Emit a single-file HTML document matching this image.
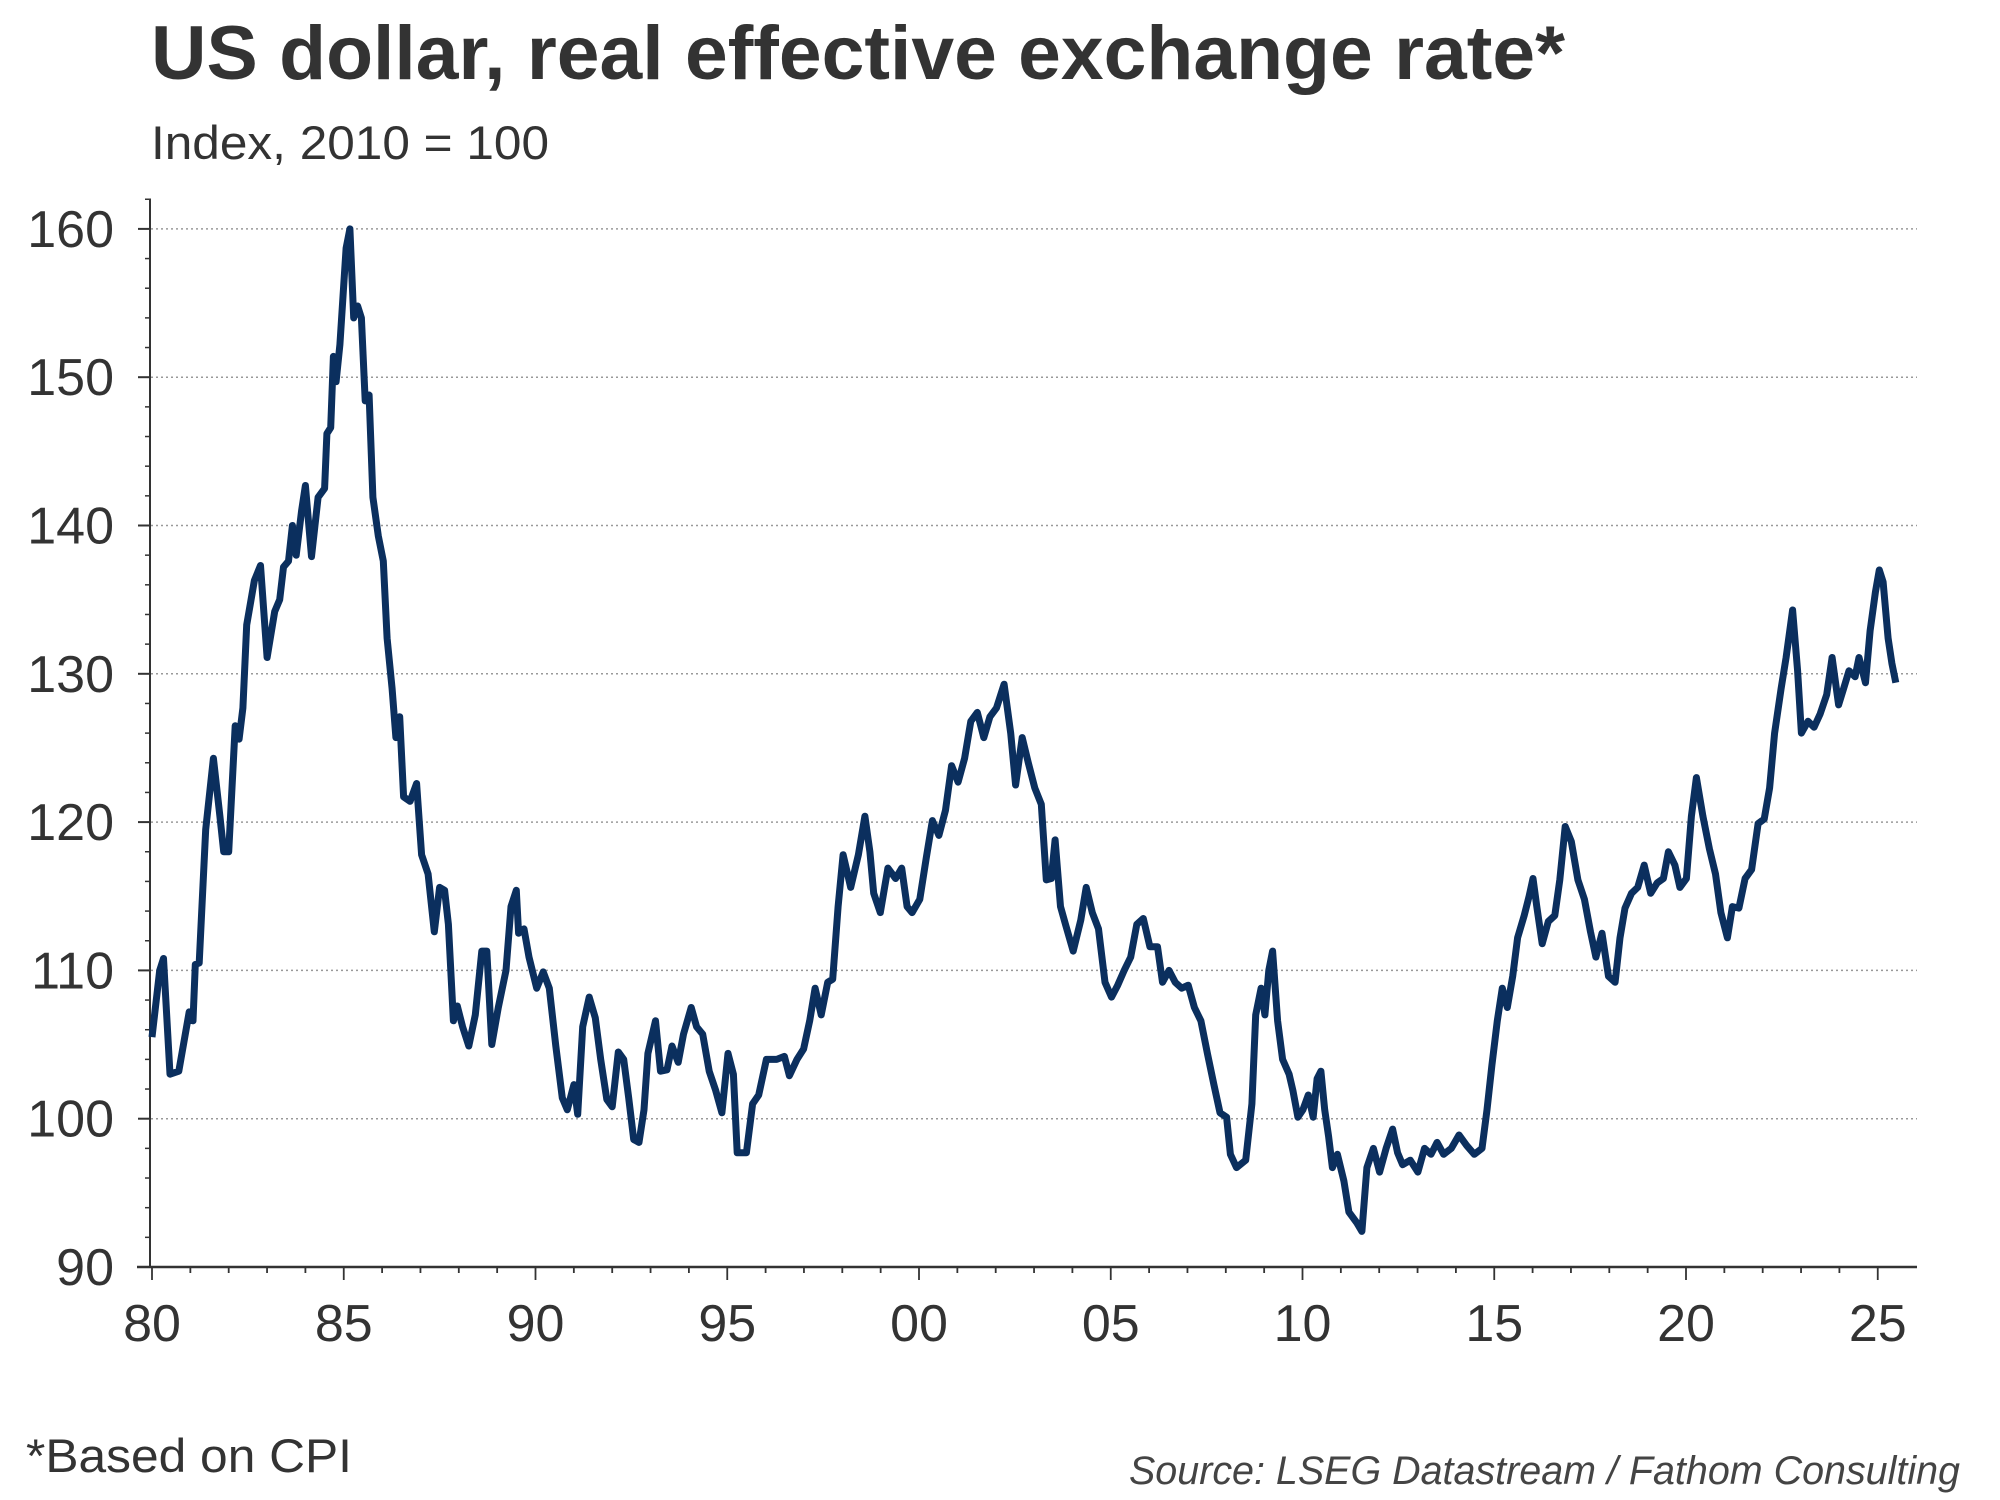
<!DOCTYPE html>
<html><head><meta charset="utf-8"><style>
body{margin:0;background:#fff;}
svg{display:block;font-family:"Liberation Sans",Arial,sans-serif;}
</style></head><body>
<svg id="chart" width="2000" height="1500" viewBox="0 0 2000 1500">
<text x="151" y="79" font-size="76" font-weight="bold" fill="#333" textLength="1414" lengthAdjust="spacingAndGlyphs">US dollar, real effective exchange rate*</text>
<text x="151" y="159" font-size="47" fill="#333" textLength="398" lengthAdjust="spacingAndGlyphs">Index, 2010 = 100</text>
<g id="grid"></g>
<g id="axes"></g>
<path id="line" fill="none" stroke="#0b2f5e" stroke-width="7" stroke-linejoin="round"/>
<text x="26" y="1472" font-size="47" fill="#333" textLength="326" lengthAdjust="spacingAndGlyphs">*Based on CPI</text>
<text x="1129" y="1484" font-size="40" font-style="italic" fill="#444" textLength="831" lengthAdjust="spacingAndGlyphs">Source: LSEG Datastream / Fathom Consulting</text>
</svg>
<script>
const yTicks=[90,100,110,120,130,140,150,160];
const xTickYears=[1980,1985,1990,1995,2000,2005,2010,2015,2020,2025];
const xTickLabels=["80","85","90","95","00","05","10","15","20","25"];
const dates=[1980.0,1980.2,1980.3,1980.47,1980.7,1980.97,1981.07,1981.13,1981.23,1981.4,1981.6,1981.77,1981.87,1982.0,1982.17,1982.27,1982.37,1982.47,1982.67,1982.83,1983.0,1983.2,1983.33,1983.43,1983.56,1983.66,1983.76,1983.9,1984.0,1984.16,1984.33,1984.5,1984.56,1984.66,1984.73,1984.8,1984.9,1985.06,1985.16,1985.26,1985.36,1985.46,1985.56,1985.66,1985.76,1985.9,1986.03,1986.13,1986.26,1986.36,1986.46,1986.56,1986.73,1986.9,1987.03,1987.2,1987.36,1987.5,1987.63,1987.73,1987.86,1987.96,1988.1,1988.26,1988.43,1988.6,1988.73,1988.86,1989.03,1989.23,1989.36,1989.5,1989.56,1989.7,1989.83,1990.03,1990.2,1990.36,1990.53,1990.7,1990.83,1991.0,1991.1,1991.23,1991.4,1991.56,1991.7,1991.86,1992.0,1992.16,1992.3,1992.43,1992.56,1992.7,1992.83,1992.93,1993.13,1993.26,1993.43,1993.56,1993.72,1993.86,1994.06,1994.2,1994.36,1994.53,1994.7,1994.86,1995.02,1995.16,1995.26,1995.5,1995.66,1995.82,1996.02,1996.29,1996.49,1996.62,1996.82,1996.99,1997.15,1997.29,1997.45,1997.62,1997.75,1997.89,1998.02,1998.22,1998.42,1998.59,1998.72,1998.82,1998.99,1999.19,1999.39,1999.55,1999.69,1999.82,2000.02,2000.19,2000.35,2000.52,2000.69,2000.85,2001.02,2001.19,2001.35,2001.52,2001.69,2001.85,2002.02,2002.22,2002.39,2002.52,2002.69,2002.85,2003.02,2003.19,2003.32,2003.45,2003.55,2003.69,2003.82,2004.02,2004.22,2004.36,2004.52,2004.68,2004.85,2005.02,2005.18,2005.35,2005.52,2005.68,2005.85,2006.02,2006.22,2006.35,2006.52,2006.68,2006.85,2007.02,2007.18,2007.35,2007.52,2007.69,2007.85,2008.02,2008.12,2008.28,2008.52,2008.68,2008.78,2008.92,2009.02,2009.12,2009.22,2009.35,2009.48,2009.65,2009.75,2009.88,2010.01,2010.15,2010.28,2010.38,2010.48,2010.58,2010.68,2010.78,2010.91,2011.08,2011.21,2011.41,2011.55,2011.68,2011.85,2012.01,2012.18,2012.35,2012.48,2012.61,2012.81,2013.01,2013.18,2013.35,2013.51,2013.68,2013.88,2014.08,2014.28,2014.48,2014.68,2014.81,2014.94,2015.08,2015.21,2015.34,2015.48,2015.61,2015.78,2015.91,2016.01,2016.11,2016.25,2016.41,2016.58,2016.71,2016.85,2017.01,2017.18,2017.35,2017.51,2017.65,2017.81,2017.98,2018.15,2018.28,2018.41,2018.58,2018.74,2018.91,2019.08,2019.25,2019.41,2019.54,2019.71,2019.84,2020.01,2020.14,2020.27,2020.44,2020.61,2020.77,2020.91,2021.08,2021.21,2021.38,2021.54,2021.71,2021.88,2022.04,2022.18,2022.31,2022.48,2022.61,2022.78,2022.91,2023.01,2023.18,2023.34,2023.5,2023.67,2023.81,2023.98,2024.11,2024.25,2024.41,2024.51,2024.68,2024.8,2024.94,2025.04,2025.14,2025.27,2025.37,2025.47];
const values=[105.5,110,110.8,103,103.2,107.2,106.6,110.4,110.5,119.5,124.3,120.4,118,118,126.5,125.6,127.7,133.3,136.3,137.3,131.1,134.2,135,137.2,137.6,140,138,141,142.7,137.9,141.9,142.5,146.2,146.6,151.4,149.7,152.2,158.7,160,154,154.8,154,148.4,148.8,141.9,139.3,137.6,132.4,129,125.7,127.1,121.7,121.4,122.6,117.8,116.5,112.6,115.6,115.4,113.1,106.6,107.6,106.2,104.9,107,111.3,111.3,105,107.5,110,114.3,115.4,112.5,112.8,110.9,108.8,109.9,108.8,104.9,101.4,100.6,102.3,100.3,106.2,108.2,106.8,104,101.3,100.8,104.5,104,101.4,98.6,98.4,100.6,104.4,106.6,103.2,103.3,104.9,103.8,105.7,107.5,106.2,105.7,103.2,101.9,100.4,104.4,103,97.7,97.7,101,101.6,104,104,104.2,102.9,104,104.7,106.6,108.8,107,109.2,109.4,114.3,117.8,115.6,117.8,120.4,118,115.2,113.9,116.9,116.2,116.9,114.3,113.9,114.8,117.6,120.1,119.1,120.8,123.8,122.7,124.3,126.8,127.4,125.7,127.1,127.7,129.3,126,122.5,125.7,124,122.3,121.2,116.1,116.2,118.8,114.3,113.1,111.3,113.4,115.6,113.9,112.8,109.2,108.2,109,110,110.9,113.1,113.5,111.6,111.6,109.2,110,109.2,108.8,109,107.5,106.6,104.4,102.3,100.4,100.1,97.6,96.7,97.2,101,107,108.8,107,110,111.3,106.6,104,103,101.9,100.1,100.6,101.6,100.1,102.7,103.2,100.6,98.8,96.7,97.6,95.8,93.7,93,92.4,96.7,98,96.4,98,99.3,97.7,96.9,97.2,96.4,98,97.6,98.4,97.6,98,98.9,98.2,97.6,98,100.6,103.6,106.6,108.8,107.5,109.6,112.2,113.7,115,116.2,114.3,111.8,113.3,113.7,116.1,119.7,118.7,116.1,114.8,112.6,110.9,112.5,109.6,109.2,112.2,114.2,115.2,115.6,117.1,115.2,115.9,116.2,118,117.1,115.6,116.2,120.4,123,120.4,118.2,116.5,113.9,112.2,114.3,114.2,116.2,116.8,119.9,120.2,122.3,126,129,131.1,134.3,130.2,126,126.8,126.4,127.3,128.6,131.1,127.9,129,130.2,129.8,131.1,129.4,132.9,135.5,137,136.2,132.4,130.7,129.4];

const NS='http://www.w3.org/2000/svg';
const X0=152, PXY=38.35, Y0=1267, PXV=14.83, XEND=1917;
function xs(t){return X0+(t-1980)*PXY;}
function ys(v){return Y0-(v-90)*PXV;}
function mk(tag,attrs,parent){const e=document.createElementNS(NS,tag);for(const k in attrs)e.setAttribute(k,attrs[k]);parent.appendChild(e);return e;}
const grid=document.getElementById('grid'), axes=document.getElementById('axes');
yTicks.forEach(v=>{
  if(v>90){const g=mk('line',{x1:151,x2:XEND,y1:ys(v),y2:ys(v),stroke:'#999','stroke-width':1.5,'stroke-dasharray':'2 3'},grid);
  
  }
  const t=mk('line',{x1:138,x2:151,y1:ys(v),y2:ys(v),stroke:'#333','stroke-width':2},axes);
  
  
  const l=mk('text',{x:114,y:ys(v)+18,'font-size':52,fill:'#333','text-anchor':'end'},axes);
  l.textContent=v;
  
  
});
for(let v=92;v<=162;v+=2){if(v%10===0)continue;
  const t=mk('line',{x1:145,x2:151,y1:ys(v),y2:ys(v),stroke:'#333','stroke-width':1.5},axes);
  
  }
const ya=mk('line',{x1:150,x2:150,y1:200,y2:Y0,stroke:'#333','stroke-width':2},axes);


const xa=mk('line',{x1:137,x2:XEND,y1:Y0,y2:Y0,stroke:'#333','stroke-width':2.5},axes);


for(let yr=1980;yr<=2025;yr++){
  const major=yr%5===0;
  const t=mk('line',{x1:xs(yr),x2:xs(yr),y1:Y0,y2:Y0+(major?13:6),stroke:'#333','stroke-width':1.8},axes);
  
  
}
xTickYears.forEach((yr,i)=>{
  const l=mk('text',{x:xs(yr),y:1341,'font-size':52,fill:'#333','text-anchor':'middle'},axes);
  l.textContent=xTickLabels[i];
  
  
});
document.getElementById('line').setAttribute('d',dates.map((t,i)=>(i?'L':'M')+xs(t).toFixed(1)+','+ys(values[i]).toFixed(1)).join(''));
</script>
</body></html>
